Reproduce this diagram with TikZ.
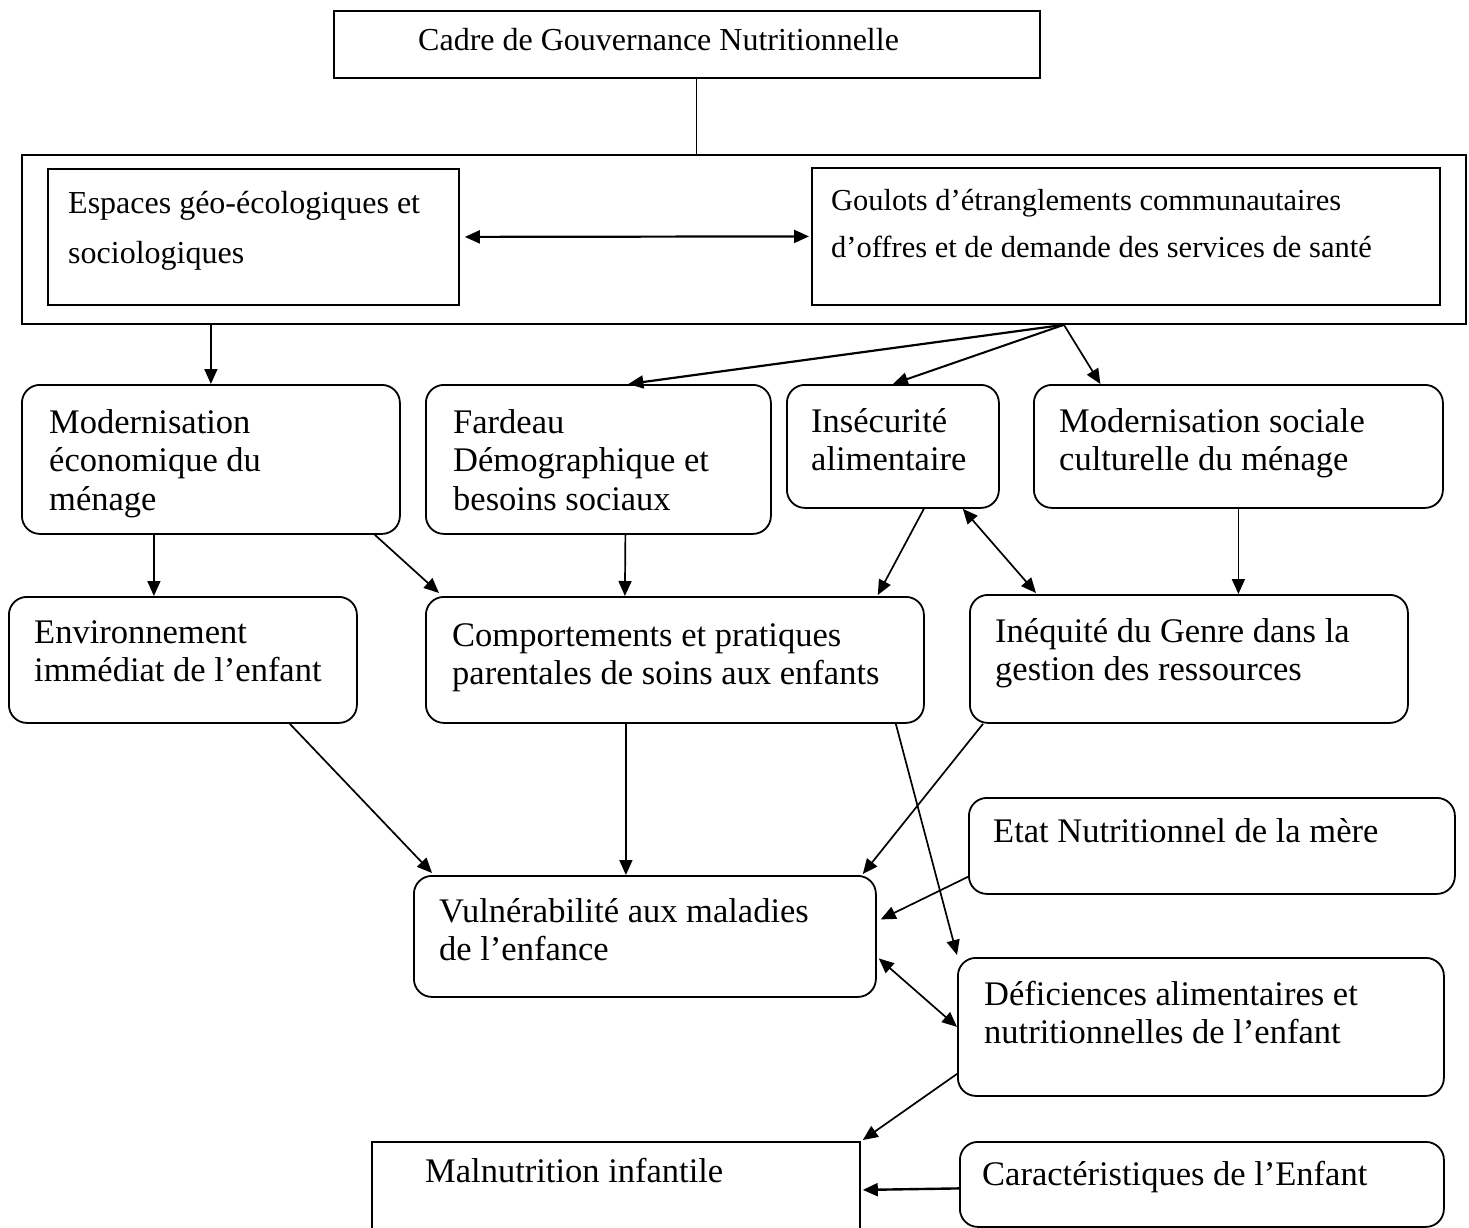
\documentclass[tikz,border=0pt]{standalone}
\usepackage{fontspec}
\setmainfont{Liberation Serif}
\usetikzlibrary{arrows.meta}
\newcommand{\txthaut}{\fontsize{32}{50}\selectfont}
\newcommand{\txtgoul}{\fontsize{30.5}{47}\selectfont}
\newcommand{\txtbas}{\fontsize{34.5}{38.5}\selectfont}

\begin{document}
\begin{tikzpicture}[x=1pt,y=-1pt,
  bx/.style={draw, line width=1.8pt, anchor=north west, inner sep=0pt},
  rbx/.style={bx, rounded corners=18pt},
  txt/.style={anchor=base west, inner sep=0pt, text width=620pt, align=left, font=\txtbas,
    execute at begin node={\spaceskip=0pt\xspaceskip=0pt}},
  fl/.style={line width=1.7pt, -{Triangle[length=15pt,width=13pt]}},
  dfl/.style={line width=1.7pt, {Triangle[length=15pt,width=13pt]}-{Triangle[length=15pt,width=13pt]}}]
\useasboundingbox (0,0) rectangle (1469,1227);

%Shape: Rectangle
\node [bx, line width=1.5pt, minimum width=706pt, minimum height=67pt] (cadre) at (333,10) {};
\node [bx, minimum width=1444pt, minimum height=169pt] (niveau) at (21,154) {};
\node [bx, minimum width=411pt, minimum height=136pt] (espaces) at (47,168) {};
\node [bx, minimum width=628pt, minimum height=137pt] (goulots) at (811,167) {};
\node [bx, minimum width=488pt, minimum height=110pt] (malnut) at (371,1141) {};
%Rounded Rect
\node [rbx, minimum width=378pt, minimum height=149pt] (meco) at (21,384) {};
\node [rbx, minimum width=345pt, minimum height=149pt] (fardeau) at (425,384) {};
\node [rbx, minimum width=212pt, minimum height=123pt] (insec) at (786,384) {};
\node [rbx, minimum width=409pt, minimum height=123pt] (msoc) at (1033,384) {};
\node [rbx, minimum width=348pt, minimum height=126pt] (env) at (8,596) {};
\node [rbx, minimum width=498pt, minimum height=126pt] (comp) at (425,596) {};
\node [rbx, minimum width=438pt, minimum height=128pt] (ineq) at (969,594) {};
\node [rbx, minimum width=462pt, minimum height=121pt] (vuln) at (413,875) {};
\node [rbx, minimum width=486pt, minimum height=96pt] (etat) at (968,797) {};
\node [rbx, minimum width=486pt, minimum height=138pt] (defic) at (957,957) {};
\node [rbx, minimum width=484pt, minimum height=85pt] (caract) at (959,1141) {};

% Text Node
\node [txt, font=\txthaut] (tcadre) at (418,50) {Cadre de Gouvernance Nutritionnelle};
% Text Node
\node [txt, font=\txthaut] (tespaces) at (68,213) {Espaces géo-écologiques et\\sociologiques};
% Text Node
\node [txt, font=\txtgoul] (tgoulots) at (831,210) {Goulots d’étranglements communautaires\\d’offres et de demande des services de santé};
% Text Node
\node [txt] (tmeco) at (49,433) {Modernisation\\économique du\\ménage};
% Text Node
\node [txt] (tfardeau) at (453,433) {Fardeau\\Démographique et\\besoins sociaux};
% Text Node
\node [txt] (tinsec) at (811,432) {Insécurité\\alimentaire};
% Text Node
\node [txt] (tmsoc) at (1059,432) {Modernisation sociale\\culturelle du ménage};
% Text Node
\node [txt] (tenv) at (34,643) {Environnement\\immédiat de l’enfant};
% Text Node
\node [txt] (tcomp) at (452,646) {Comportements et pratiques\\parentales de soins aux enfants};
% Text Node
\node [txt] (tineq) at (995,642) {Inéquité du Genre dans la\\gestion des ressources};
% Text Node
\node [txt] (tvuln) at (439,922) {Vulnérabilité aux maladies\\de l’enfance};
% Text Node
\node [txt] (tetat) at (993,842) {Etat Nutritionnel de la mère};
% Text Node
\node [txt] (tdefic) at (984,1005) {Déficiences alimentaires et\\nutritionnelles de l’enfant};
% Text Node
\node [txt] (tmalnut) at (425,1182) {Malnutrition infantile};
% Text Node
\node [txt] (tcaract) at (982,1185) {Caractéristiques de l’Enfant};

%Straight Lines
\coordinate (c1) at ([xshift=10pt]cadre.south);
\draw [line width=1pt] (c1) -- (c1 |- niveau.north);
\draw [dfl, line width=2.2pt, shorten <=5pt, shorten >=2pt] (espaces.east) -- (goulots.west);
\draw [fl] (meco.north |- niveau.south) -- (meco.north);
%Straight Lines
\coordinate (fan) at ([xshift=320pt]niveau.south);
\draw [fl, line width=2.2pt] (fan) -- ([xshift=30pt]fardeau.north);
\draw [fl, line width=2pt] (fan) -- (insec.north);
\draw [fl] (fan) -- ([xshift=-138pt]msoc.north);
%Straight Lines
\draw [fl] ([xshift=-57pt]meco.south) -- ([xshift=-29pt]env.north);
\draw [fl] ([xshift=-26pt]meco.south east) -- ([xshift=14pt,yshift=3pt]comp.north west);
\draw [fl] ([xshift=27pt]fardeau.south) -- ([xshift=-50pt]comp.north);
\draw [fl] ([xshift=31pt]insec.south) -- ([xshift=-47pt,yshift=1pt]comp.north east);
\draw [dfl] ([xshift=-37pt]insec.south east) -- ([xshift=67pt,yshift=1pt]ineq.north west);
\draw [fl] (msoc.south) -- (msoc.south |- ineq.north);
%Straight Lines
\draw [fl] ([xshift=-68pt]env.south east) -- ([xshift=19pt,yshift=2pt]vuln.north west);
\coordinate (c2) at ([xshift=-49pt]comp.south);
\draw [fl] (c2) -- (c2 |- vuln.north);
\draw [fl] ([xshift=-29pt]comp.south east) -- ([yshift=2pt]defic.north west);
\draw [fl] ([xshift=14pt]ineq.south west) -- ([xshift=-14pt,yshift=1pt]vuln.north east);
\draw [fl] ([yshift=18pt]etat.south west) -- ([xshift=4pt,yshift=17pt]vuln.east);
\draw [dfl] ([xshift=2pt,yshift=-22pt]vuln.east) -- (defic.west);
\draw [fl] ([yshift=-47pt]defic.west) -- ([xshift=2pt,yshift=1pt]malnut.north east);
\draw [fl, line width=2.4pt] ([yshift=-4pt]caract.west) -- ([xshift=2pt,yshift=7pt]malnut.east);

\end{tikzpicture}
\end{document}
